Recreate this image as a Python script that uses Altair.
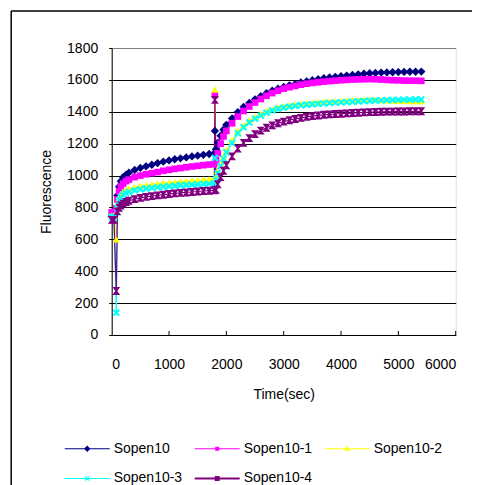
import altair as alt
import pandas as pd

series_names = ["Sopen10", "Sopen10-1", "Sopen10-2", "Sopen10-3", "Sopen10-4"]
series_colors = ["#000080", "#FF00FF", "#FFFF00", "#00FFFF", "#800080"]

time_sec = [0, 40, 80, 100, 130, 160, 200, 250, 300, 400, 500, 600, 700, 800, 900,
            1000, 1100, 1200, 1300, 1400, 1500, 1600, 1700, 1790, 1800, 1820, 1850,
            1900, 1950, 2000, 2100, 2200, 2300, 2400, 2500, 2600, 2700, 2800, 2900,
            3000, 3100, 3200, 3300, 3400, 3500, 3600, 3700, 3800, 3900, 4000, 4100,
            4200, 4300, 4400, 4500, 4600, 4700, 4800, 4900, 5000, 5100, 5200, 5300, 5400]

sopen10 = [745, 750, 790, 875, 930, 965, 990, 1005, 1018, 1035, 1048, 1058, 1068, 1078, 1087,
           1095, 1102, 1108, 1114, 1120, 1125, 1130, 1135, 1140, 1280, 1165, 1205,
           1250, 1288, 1318, 1358, 1398, 1430, 1455, 1478, 1498, 1516, 1532, 1545,
           1556, 1566, 1575, 1584, 1591, 1598, 1604, 1610, 1615, 1619, 1623, 1627,
           1631, 1635, 1639, 1642, 1644, 1646, 1647, 1648, 1649, 1650, 1651, 1651, 1652]

sopen10_1 = [770, 770, 795, 850, 900, 930, 950, 965, 975, 990, 1000, 1008, 1015, 1022, 1030,
             1036, 1042, 1047, 1052, 1057, 1061, 1065, 1069, 1072, 1505, 1095, 1140,
             1200, 1245, 1280, 1328, 1370, 1405, 1433, 1458, 1480, 1500, 1517, 1532,
             1545, 1554, 1562, 1570, 1576, 1581, 1585, 1589, 1592, 1595, 1598, 1600,
             1602, 1603, 1604, 1605, 1604, 1602, 1600, 1598, 1597, 1596, 1595, 1595, 1594]

sopen10_2 = [750, 750, 600, 815, 862, 885, 900, 910, 918, 928, 935, 940, 945, 950, 953,
             956, 960, 963, 966, 969, 972, 975, 978, 982, 1540, 992, 1030,
             1075, 1118, 1158, 1220, 1278, 1315, 1345, 1368, 1388, 1405, 1418, 1428,
             1436, 1442, 1447, 1451, 1454, 1457, 1460, 1463, 1465, 1467, 1469, 1471,
             1473, 1475, 1477, 1478, 1476, 1474, 1472, 1470, 1469, 1468, 1467, 1467, 1467]

sopen10_3 = [740, 740, 140, 795, 842, 865, 880, 890, 898, 907, 914, 919, 923, 927, 930,
             933, 936, 939, 941, 943, 945, 947, 949, 952, 1110, 975, 1015,
             1060, 1105, 1145, 1205, 1265, 1303, 1333, 1356, 1376, 1394, 1408, 1418,
             1426, 1432, 1437, 1441, 1444, 1447, 1450, 1453, 1455, 1457, 1459, 1461,
             1463, 1465, 1467, 1469, 1471, 1472, 1473, 1474, 1475, 1476, 1476, 1477, 1477]

sopen10_4 = [722, 722, 276, 775, 798, 812, 824, 834, 842, 852, 860, 866, 871, 876, 880,
             884, 888, 891, 894, 897, 900, 903, 905, 907, 1475, 910, 945,
             990, 1030, 1065, 1120, 1170, 1205, 1235, 1260, 1282, 1300, 1315, 1328,
             1338, 1347, 1355, 1362, 1368, 1373, 1377, 1381, 1384, 1386, 1388, 1390,
             1392, 1394, 1396, 1398, 1399, 1400, 1401, 1401, 1402, 1402, 1403, 1403, 1403]

x_ticks = [1000, 2000, 3000, 4000, 5000, 6000]
x_labels = [0, 1000, 2000, 3000, 4000, 5000, 6000]
y_ticks = [0, 200, 400, 600, 800, 1000, 1200, 1400, 1600, 1800]

all_values = [sopen10, sopen10_1, sopen10_2, sopen10_3, sopen10_4]
rows = []
for name, vals in zip(series_names, all_values):
    for t, v in zip(time_sec, vals):
        rows.append({"series": name, "time": t, "value": v})
df = pd.DataFrame(rows)

FONT = "Liberation Sans"
W, H = 344, 287

x_scale = alt.Scale(domain=[0, 6000], nice=False)
y_scale = alt.Scale(domain=[0, 1800], nice=False)

x_axis = alt.Axis(values=x_labels, format="d", title="Time(sec)",
                  ticks=False, grid=False, labelPadding=23, labelOverlap=False,
                  domainColor="black", labelColor="black",
                  labelFont=FONT, labelFontSize=14,
                  titleFont=FONT, titleFontSize=14, titleFontWeight="normal",
                  titleColor="black", titleX=172, titleY=60,
                  titleBaseline="middle", titleAlign="center")
y_axis = alt.Axis(values=y_ticks, format="d", title="Fluorescence",
                  tickSize=3, tickColor="black", labelPadding=11, labelOverlap=False,
                  domainColor="black", labelColor="black",
                  gridColor=alt.condition("datum.value === 1800",
                                          alt.value("#808080"),
                                          alt.value("black")),
                  gridWidth=1,
                  labelFont=FONT, labelFontSize=14,
                  titleFont=FONT, titleFontSize=14, titleFontWeight="normal",
                  titleColor="black", titleX=-65, titleY=143.5,
                  titleAngle=270, titleBaseline="middle", titleAlign="center")

x_enc = alt.X("time:Q", scale=x_scale, axis=x_axis)
y_enc = alt.Y("value:Q", scale=y_scale, axis=y_axis)


def color_enc(legend=None):
    return alt.Color("series:N", scale=alt.Scale(domain=series_names, range=series_colors),
                     legend=legend)


base = alt.Chart(df)

lines = base.mark_line(strokeWidth=1.2).encode(
    x=x_enc, y=y_enc, color=color_enc(), detail="series:N",
)

marker_shapes = {
    "Sopen10": ("diamond", 70),
    "Sopen10-1": ("square", 44),
    "Sopen10-2": ("triangle-up", 54),
    "Sopen10-3": ("M-1,-0.6L-0.6,-1L1,0.6L0.6,1Z M0.6,-1L1,-0.6L-0.6,1L-1,0.6Z", 54),
    "Sopen10-4": ("M-1,-1H1L0.25,0L1,1H-1L-0.25,0Z", 62),
}

point_layers = []
for name in series_names:
    shp, sz = marker_shapes[name]
    point_layers.append(
        base.transform_filter(alt.datum.series == name)
        .mark_point(filled=True, shape=shp, size=sz, opacity=1, strokeWidth=0)
        .encode(x=x_enc, y=y_enc, color=color_enc())
    )

legend_paths = [
    "M-1,-0.025H1V0.025H-1Z M0,-0.14L0.14,0L0,0.14L-0.14,0Z",
    "M-1,-0.025H1V0.025H-1Z M-0.09,-0.09H0.09V0.09H-0.09Z",
    "M-1,-0.025H1V0.025H-1Z M0,-0.13L0.13,0.09H-0.13Z",
    "M-1,-0.025H1V0.025H-1Z M-0.11,-0.08L-0.08,-0.11L0.11,0.08L0.08,0.11Z M0.08,-0.11L0.11,-0.08L-0.08,0.11L-0.11,0.08Z",
    "M-1,-0.04H1V0.04H-1Z M-0.11,-0.11H0.11V0.11H-0.11Z",
]

leg = alt.Legend(title=None, orient="none", legendX=-47, legendY=378,
                 columns=3, direction="horizontal", symbolSize=2025,
                 symbolStrokeWidth=0, symbolOpacity=1,
                 labelFont=FONT, labelFontSize=14, labelColor="black",
                 labelOffset=4, columnPadding=12, rowPadding=-19,
                 gridAlign="all", padding=0, labelLimit=200)

legend_layer = base.mark_point(filled=True, opacity=0, size=1).encode(
    x=x_enc, y=y_enc,
    color=color_enc(leg),
    shape=alt.Shape("series:N", scale=alt.Scale(domain=series_names, range=legend_paths),
                    legend=leg),
)

tick_df = pd.DataFrame({"tick": x_ticks})
x_tick_marks = alt.Chart(tick_df).mark_rule(color="black", strokeWidth=1).encode(
    x=alt.X("tick:Q", scale=x_scale, axis=x_axis), y=alt.value(H), y2=alt.value(H - 4)
)

frame_data = alt.Data(values=[{"k": 1}])
frame_left = alt.Chart(frame_data).mark_rule(color="black", strokeWidth=1.5).encode(
    x=alt.value(-100.5), y=alt.value(-37), y2=alt.value(460)
)
frame_top = alt.Chart(frame_data).mark_rule(color="black", strokeWidth=1.5).encode(
    x=alt.value(-100.5), x2=alt.value(400), y=alt.value(-37)
)

chart = alt.layer(
    lines, *point_layers, legend_layer, x_tick_marks, frame_left, frame_top
).resolve_scale(
    color="independent", shape="independent"
).resolve_legend(
    color="independent", shape="independent"
).properties(
    width=W, height=H,
    autosize=alt.AutoSizeParams(type="none"),
    padding={"left": 103.7, "top": 40, "right": 16, "bottom": 150},
).configure_view(stroke=None).configure(background="white")

chart.save("out.html", embed_options={"renderer": "svg", "actions": False})
